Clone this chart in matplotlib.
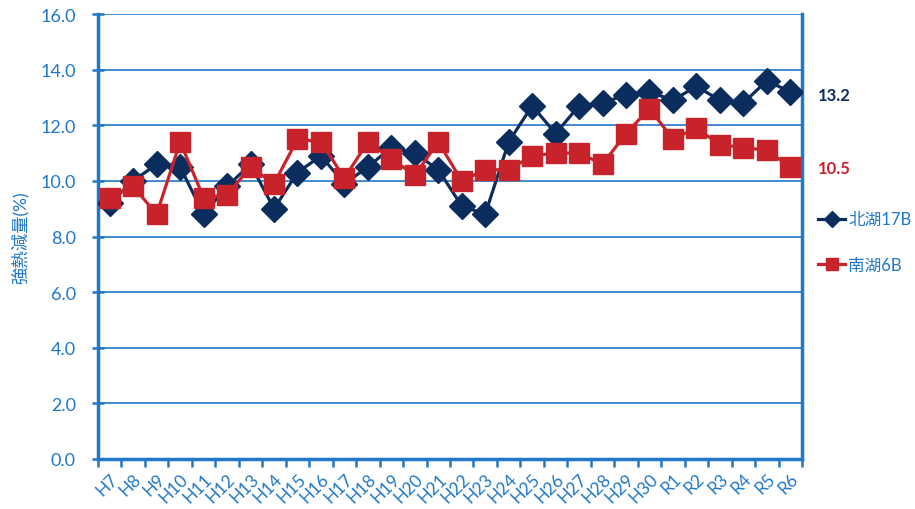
import matplotlib.pyplot as plt
import numpy as np

plt.rcParams['font.family'] = ['Lato', 'Noto Sans CJK JP', 'DejaVu Sans']

# years (Heisei / Reiwa)
years = ['H7', 'H8', 'H9', 'H10', 'H11', 'H12', 'H13', 'H14', 'H15', 'H16',
         'H17', 'H18', 'H19', 'H20', 'H21', 'H22', 'H23', 'H24', 'H25', 'H26',
         'H27', 'H28', 'H29', 'H30', 'R1', 'R2', 'R3', 'R4', 'R5', 'R6']

kitako = [9.2, 10.0, 10.6, 10.5, 8.8, 9.8, 10.6, 9.0, 10.3, 10.9,
          9.9, 10.5, 11.2, 11.0, 10.4, 9.1, 8.8, 11.4, 12.7, 11.7,
          12.7, 12.8, 13.1, 13.2, 12.9, 13.4, 12.9, 12.8, 13.6, 13.2]

minamiko = [9.4, 9.8, 8.8, 11.4, 9.4, 9.5, 10.5, 9.9, 11.5, 11.4,
            10.1, 11.4, 10.8, 10.2, 11.4, 10.0, 10.4, 10.4, 10.9, 11.0,
            11.0, 10.6, 11.7, 12.6, 11.5, 11.9, 11.3, 11.2, 11.1, 10.5]

axis_blue = '#1f78c8'
navy = '#0b2d5e'
red = '#c8232a'

fig = plt.figure(figsize=(9.15, 5.1), dpi=100)
ax = fig.add_axes([98 / 915, 50 / 510, 704 / 915, 445 / 510])

x = np.arange(len(years))
ax.plot(x, kitako, color=navy, lw=2.3, marker='D', ms=13, label='北湖17B', zorder=3)
ax.plot(x, minamiko, color=red, lw=2.3, marker='s', ms=14.5, label='南湖6B', zorder=4)

ax.set_xlim(-0.5, len(years) - 0.5)
ax.set_ylim(0, 16)
ax.set_yticks(np.arange(0, 16.1, 2))
ax.set_yticklabels([f'{v:.1f}' for v in np.arange(0, 16.1, 2)])
ax.yaxis.grid(True, color=axis_blue, lw=1.2)
ax.set_axisbelow(True)

# category ticks between the years
ax.set_xticks(np.arange(-0.5, len(years), 1.0), minor=False)
ax.set_xticklabels([])
ax.set_xticks(x, minor=True)
ax.set_xticklabels(years, minor=True, rotation=45, ha='right', rotation_mode='anchor')
ax.tick_params(axis='x', which='major', direction='out', length=6, width=1.8, color=axis_blue)
ax.tick_params(axis='x', which='minor', length=0, pad=8, labelsize=12.5, labelcolor=axis_blue)
ax.tick_params(axis='y', direction='inout', length=8, width=1.8, color=axis_blue,
               labelsize=13, labelcolor=axis_blue, pad=12)

for side in ['left', 'right', 'bottom']:
    ax.spines[side].set_color(axis_blue)
    ax.spines[side].set_linewidth(2.5)
ax.spines['top'].set_visible(False)

ax.set_ylabel('強熱減量(%)', color=axis_blue, fontsize=12.5, labelpad=8)

# last value labels
ax.annotate(f'{kitako[-1]:.1f}', (x[-1], kitako[-1]), xytext=(20, -2), textcoords='offset points',
            color=navy, fontsize=12, fontweight='bold', va='center', annotation_clip=False)
ax.annotate(f'{minamiko[-1]:.1f}', (x[-1], minamiko[-1]), xytext=(20, -1), textcoords='offset points',
            color=red, fontsize=12, fontweight='bold', va='center', annotation_clip=False)

leg = fig.legend(loc='upper left', bbox_to_anchor=(810 / 915, 1 - 204 / 510), frameon=False,
                 fontsize=12, handlelength=1.6, labelspacing=1.75, handletextpad=0.2,
                 markerscale=0.6, borderpad=0)
for t in leg.get_texts():
    t.set_color(axis_blue)

fig.savefig('out.png', dpi=100)
